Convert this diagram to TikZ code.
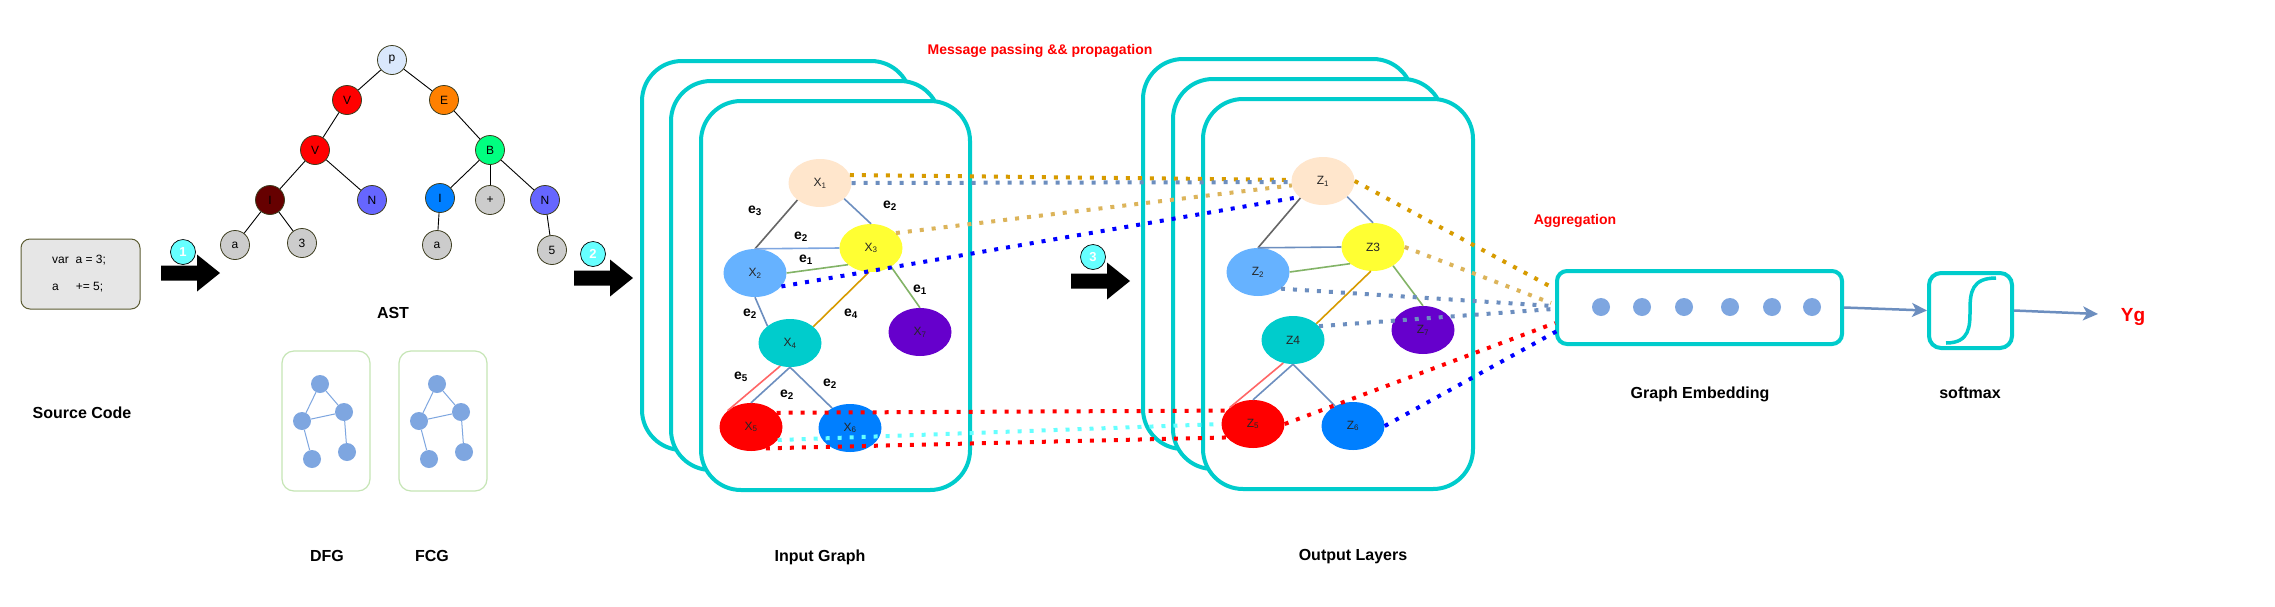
\documentclass[tikz,border=0pt]{standalone}
\usepackage{fontspec}
\setmainfont{Liberation Sans}
\usetikzlibrary{shapes.geometric,arrows.meta,calc}
\definecolor{cyb}{HTML}{00CCCC}
\definecolor{cyl}{HTML}{66FFFF}
\definecolor{pblue}{HTML}{DAE8FC}
\definecolor{orng}{HTML}{FF8000}
\definecolor{grn}{HTML}{00FF80}
\definecolor{dred}{HTML}{660000}
\definecolor{nblue}{HTML}{6666FF}
\definecolor{iblue}{HTML}{007FFF}
\definecolor{gry}{HTML}{CCCCCC}
\definecolor{astb}{HTML}{3D3D1F}
\definecolor{codeb}{HTML}{5C5C33}
\definecolor{codef}{HTML}{E6E6E6}
\definecolor{gboxc}{HTML}{C5E5B5}
\definecolor{sgb}{HTML}{7EA6E0}
\definecolor{x1c}{HTML}{FFE6CC}
\definecolor{x2c}{HTML}{66B2FF}
\definecolor{x3c}{HTML}{FFFF33}
\definecolor{x7c}{HTML}{6600CC}
\definecolor{eg}{HTML}{666666}
\definecolor{eb}{HTML}{6C8EBF}
\definecolor{egr}{HTML}{82B366}
\definecolor{eo}{HTML}{D79B00}
\definecolor{er}{HTML}{FF6666}
\definecolor{lo}{HTML}{DCB45A}
\begin{document}
\begin{tikzpicture}[x=1pt,y=-1pt,
  lbl/.style={font=\fontsize{16}{19}\selectfont\bfseries},
  redlbl/.style={text=red,font=\fontsize{14}{17}\selectfont\bfseries},
  astn/.style={circle,draw=astb,line width=0.8pt,minimum size=29pt,inner sep=0pt,font=\fontsize{12}{14}\selectfont},
  astedge/.style={black,line width=0.9pt},
  codebox/.style={draw=codeb,fill=codef,line width=1pt,rounded corners=9pt,minimum width=119pt,minimum height=70pt},
  codetxt/.style={font=\fontsize{12}{14}\selectfont,inner sep=0pt},
  numc/.style={circle,fill=cyl,draw=black,line width=0.7pt,minimum size=25pt,inner sep=0pt,text=white,font=\fontsize{13}{15}\selectfont\bfseries},
  blockarr/.pic={\fill[black] (-59,-7.5) -- (-23,-7.5) -- (-23,-18.5) -- (0,0) -- (-23,18.5) -- (-23,7.5) -- (-59,7.5) -- cycle;},
  gbox/.style={draw=gboxc,line width=1.2pt,rounded corners=12pt,minimum width=88pt,minimum height=140pt},
  smallg/.style={circle,fill=sgb,minimum size=18pt,inner sep=0pt},
  sge/.style={sgb,line width=1pt},
  layerbox/.style={draw=cyb,fill=white,line width=4pt,rounded corners=40pt,minimum width=269pt,minimum height=389pt},
  gnode/.style={ellipse,minimum width=63pt,minimum height=48pt,inner sep=0pt,font=\fontsize{12}{14}\selectfont,text=black!85},
  elbl/.style={font=\fontsize{14}{17}\selectfont\bfseries,inner sep=0pt},
  ge/.style={line width=1.6pt},
  dots/.style={line width=4pt,dash pattern=on 4pt off 8pt},
  garrow/.style={eb,line width=2.5pt,-{Stealth[length=15pt,width=14pt,inset=4pt]}},
]
\fill[white] (0,0) rectangle (2275,606);
\useasboundingbox (0,0) rectangle (2275,606);

% ---------- source code ----------
\node[codebox] (code) at (80.5,274) {};
\node[codetxt,anchor=west] (code1) at (52,260) {var\ \ a = 3;};
\node[codetxt,anchor=west] (code2) at (52,287) {a\hspace{17pt}+= 5;};
\node[lbl] (srcl) at (82,413) {Source Code};

% ---------- block arrows ----------
\pic at (220,273) {blockarr};
\node[numc] (c1) at (183,252) {1};
\pic at (633,278) {blockarr};
\node[numc] (c2) at (593,254) {2};
\pic at (1130,281) {blockarr};
\node[numc] (c3) at (1093,257) {3};

% ---------- AST ----------
\node[astn,fill=pblue] (p) at (392,60) {p};
\node[astn,fill=red] (v1) at (347,100) {V};
\node[astn,fill=orng] (e) at (444,100) {E};
\node[astn,fill=red] (v2) at (315,150) {V};
\node[astn,fill=grn] (b) at (490,150) {B};
\node[astn,fill=dred] (i1) at (270,200) {I};
\node[astn,fill=nblue] (n1) at (372,200) {N};
\node[astn,fill=iblue] (i2) at (440,198) {I};
\node[astn,fill=gry] (plus) at (490,200) {+};
\node[astn,fill=nblue] (n2) at (545,200) {N};
\node[astn,fill=gry] (a1) at (235,245) {a};
\node[astn,fill=gry] (t3) at (302,243) {3};
\node[astn,fill=gry] (a2) at (437,245) {a};
\node[astn,fill=gry] (f5) at (552,250) {5};
\draw[astedge] (p) -- (v1);
\draw[astedge] (p) -- (e);
\draw[astedge] (v1) -- (v2);
\draw[astedge] (e) -- (b);
\draw[astedge] (v2) -- (i1);
\draw[astedge] (v2) -- (n1);
\draw[astedge] (b) -- (i2);
\draw[astedge] (b) -- (plus);
\draw[astedge] (b) -- (n2);
\draw[astedge] (i1) -- (a1);
\draw[astedge] (i1) -- (t3);
\draw[astedge] (i2) -- (a2);
\draw[astedge] (n2) -- (f5);
\node[lbl] (astl) at (393,313) {AST};

% ---------- DFG / FCG ----------
\node[gbox] (dfg) at (326,421) {};
\node[gbox] (fcg) at (443,421) {};
\foreach \nm/\dx in {d/0,f/117}{
  \node[smallg] (\nm1) at (320+\dx,384) {};
  \node[smallg] (\nm2) at (344+\dx,412) {};
  \node[smallg] (\nm3) at (302+\dx,421) {};
  \node[smallg] (\nm4) at (347+\dx,452) {};
  \node[smallg] (\nm5) at (312+\dx,459) {};
  \draw[sge] (\nm1) -- (\nm3);
  \draw[sge] (\nm1) -- (\nm2);
  \draw[sge] (\nm3) -- (\nm2);
  \draw[sge] (\nm2) -- (\nm4);
  \draw[sge] (\nm3) -- (\nm5);
}
\node[lbl] (dfgl) at (327,556) {DFG};
\node[lbl] (fcgl) at (432,556) {FCG};

% ---------- input graph ----------
\node[layerbox] (inA) at (776.5,255.5) {};
\node[layerbox] (inB) at (805.5,275.5) {};
\node[layerbox] (inC) at (835.5,295.5) {};
\node[gnode,fill=x1c] (X1) at (820,183) {X\textsubscript{1}};
\node[gnode,fill=x2c] (X2) at (755,273) {X\textsubscript{2}};
\node[gnode,fill=x3c] (X3) at (871,248) {X\textsubscript{3}};
\node[gnode,fill=cyb] (X4) at (790,343) {X\textsubscript{4}};
\node[gnode,fill=red] (X5) at (751,427) {X\textsubscript{5}};
\node[gnode,fill=iblue] (X6) at (850,428) {X\textsubscript{6}};
\node[gnode,fill=x7c] (X7) at (920,332) {X\textsubscript{7}};
\draw[ge,eg] (X1.217) -- (X2.north);
\draw[ge,eb] (X1.327) -- (X3.north);
\draw[ge,sgb] (X2.north) -- (X3.west);
\draw[ge,egr] (X2.east) -- (X3.216);
\draw[ge,egr] (X3.317) -- (X7.north);
\draw[ge,eo] (X3.265) -- (X4.35);
\draw[ge,eb] (X2.south) -- (X4.143);
\draw[ge,er] (X4.247) -- (X5.145);
\draw[ge,eb] (X4.south) -- (X5.north);
\draw[ge,eb] (X4.south) -- (X6.132);
\node[elbl] (l1) at (755,211) {e\textsubscript{3}};
\node[elbl] (l2) at (890,206) {e\textsubscript{2}};
\node[elbl] (l3) at (801,237) {e\textsubscript{2}};
\node[elbl] (l4) at (806,260) {e\textsubscript{1}};
\node[elbl] (l5) at (920,290) {e\textsubscript{1}};
\node[elbl] (l6) at (750,314) {e\textsubscript{2}};
\node[elbl] (l7) at (851,314) {e\textsubscript{4}};
\node[elbl] (l8) at (741,377) {e\textsubscript{5}};
\node[elbl] (l9) at (787,395) {e\textsubscript{2}};
\node[elbl] (l10) at (830,384) {e\textsubscript{2}};
\node[lbl] (inl) at (820,557) {Input Graph};

% ---------- output layers ----------
\node[layerbox,minimum width=270pt,minimum height=390pt] (outA) at (1278,254) {};
\node[layerbox,minimum width=270pt,minimum height=390pt] (outB) at (1308,274) {};
\node[layerbox,minimum width=270pt,minimum height=390pt] (outC) at (1338,294) {};
\node[gnode,fill=x1c] (Z1) at (1323,181) {Z\textsubscript{1}};
\node[gnode,fill=x2c] (Z2) at (1258,272) {Z\textsubscript{2}};
\node[gnode,fill=x3c] (Z3) at (1373,247) {Z3};
\node[gnode,fill=cyb] (Z4) at (1293,340) {Z4};
\node[gnode,fill=red] (Z5) at (1253,424) {Z\textsubscript{5}};
\node[gnode,fill=iblue] (Z6) at (1353,426) {Z\textsubscript{6}};
\node[gnode,fill=x7c] (Z7) at (1423,330) {Z\textsubscript{7}};
\draw[ge,eg] (Z1.217) -- (Z2.north);
\draw[ge,eb] (Z1.327) -- (Z3.north);
\draw[ge,eb] (Z2.north) -- (Z3.west);
\draw[ge,egr] (Z2.east) -- (Z3.216);
\draw[ge,egr] (Z3.317) -- (Z7.north);
\draw[ge,eo] (Z3.265) -- (Z4.35);
\draw[ge,er] (Z4.247) -- (Z5.145);
\draw[ge,eb] (Z4.south) -- (Z5.north);
\draw[ge,eb] (Z4.south) -- (Z6.132);
\node[lbl] (outl) at (1353,557) {Output Layers};

% ---------- message passing dotted lines ----------
\draw[dots,eo] (X1.15) -- (Z1.178);
\draw[dots,eb] (X1.east) -- (Z1.182);
\draw[dots,lo] (X3.31) -- (Z1.188);
\draw[dots,blue] (X2.333) -- (Z1.214);
\draw[dots,red] (X5.29) -- (Z5.153);
\draw[dots,cyl] (X5.334) -- (Z5.west);
\draw[dots,red] (X5.305) -- (Z5.207);
\node[redlbl] (mpl) at (1040,51) {Message passing \&\& propagation};

% ---------- graph embedding ----------
\node[draw=cyb,line width=4pt,rounded corners=10pt,minimum width=285pt,minimum height=73pt] (emb) at (1699.5,307.5) {};
\foreach \i/\xx in {1/1601,2/1642,3/1684,4/1730,5/1772,6/1812}{
  \node[smallg] (ed\i) at (\xx,307) {};
}
\coordinate (g1) at ($(emb.west)+(0,-18.5)$);
\coordinate (g2) at ($(emb.west)+(-4,-4.5)$);
\coordinate (g3) at ($(emb.west)+(-2,-1.5)$);
\coordinate (g4) at ($(emb.west)+(-2,1.5)$);
\coordinate (g5) at ($(emb.west)+(0,15.5)$);
\coordinate (g6) at ($(emb.west)+(2,23.5)$);
\draw[dots,eo] (Z1.east) -- (g1);
\draw[dots,lo] (Z3.east) -- (g2);
\draw[dots,eb] (Z2.324) -- (g3);
\draw[dots,eb] (Z4.28) -- (g4);
\draw[dots,red] (Z5.east) -- (g5);
\draw[dots,blue] (Z6.east) -- (g6);
\node[redlbl] (aggl) at (1575,221) {Aggregation};
\node[lbl] (embl) at (1700,394) {Graph Embedding};

% ---------- softmax ----------
\node[draw=cyb,line width=4pt,rounded corners=12pt,minimum width=83pt,minimum height=75pt] (sm) at (1970.5,310.5) {};
\draw[cyb,line width=3.5pt] (1946,343) .. controls (1970,343) and (1970,326) .. (1970,310)
   .. controls (1970,292) and (1972,278) .. (1996,278);
\draw[garrow] (emb.east) -- (sm.west);
\coordinate (yend) at (2098,314);
\draw[garrow] (sm.east) -- (yend);
\node[text=red,font=\fontsize{19}{22}\selectfont\bfseries] (yg) at (2133,317) {Yg};
\node[lbl] (sml) at (1970,393) {softmax};
\end{tikzpicture}
\end{document}
